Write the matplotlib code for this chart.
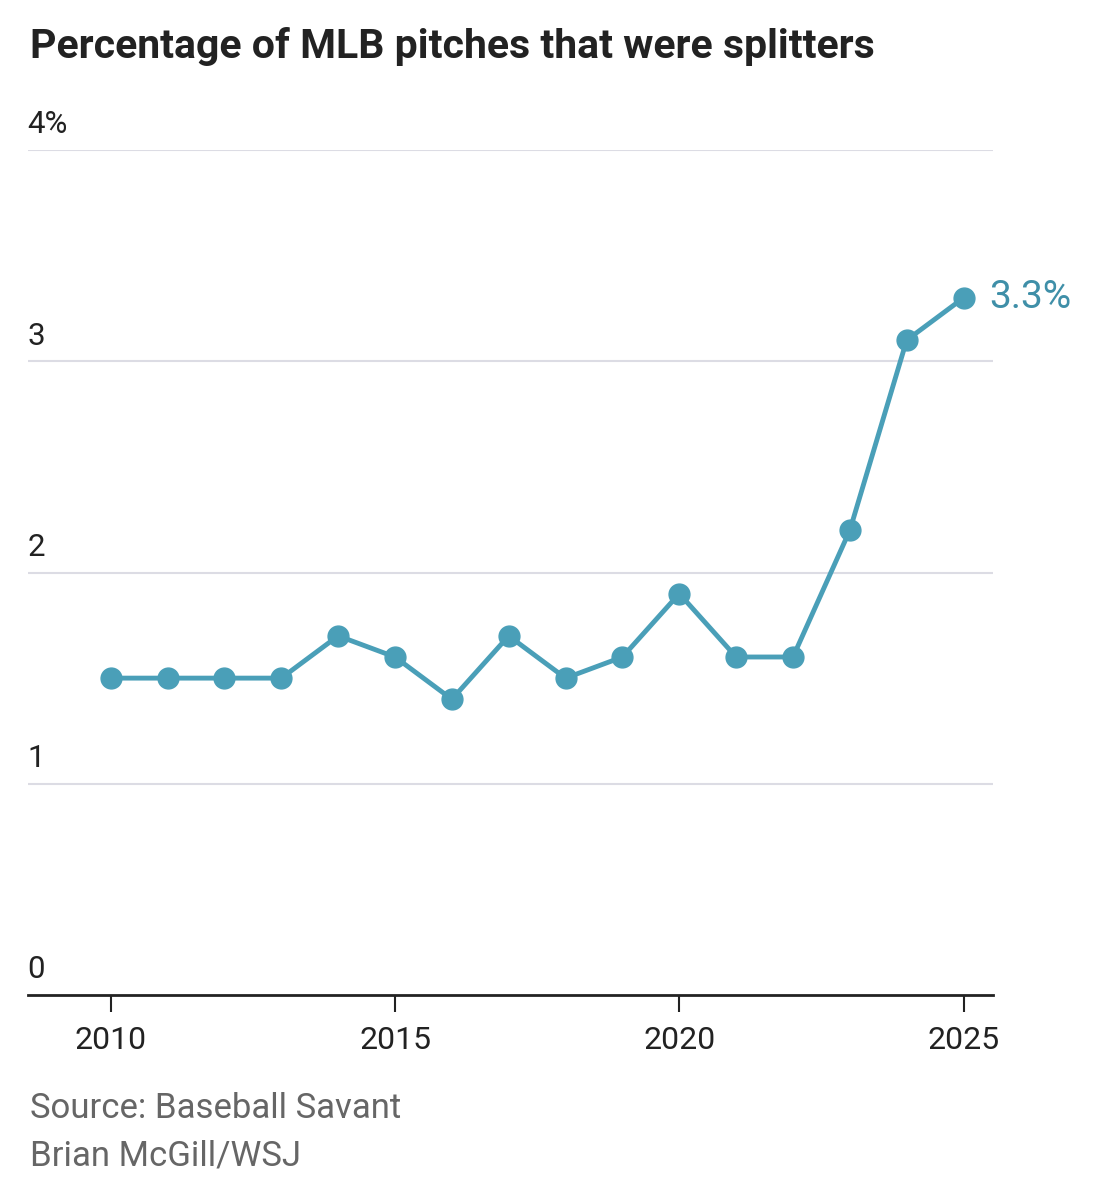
import matplotlib
matplotlib.use("Agg")
import matplotlib.pyplot as plt

years = list(range(2010, 2026))
share = [1.5, 1.5, 1.5, 1.5, 1.7, 1.6, 1.4, 1.7, 1.5, 1.6, 1.9, 1.6, 1.6, 2.2, 3.1, 3.3]
yticks = [0, 1, 2, 3, 4]
ylabels = ["0", "1", "2", "3", "4%"]
xticks = [2010, 2015, 2020, 2025]

plt.rcParams['font.family'] = ['Roboto', 'DejaVu Sans']
color = "#4a9fb8"

fig = plt.figure(figsize=(11.09, 12.0), dpi=100)
ax = fig.add_axes([0.025, 1 - 995 / 1200, 0.87, (995 - 150) / 1200])
ax.set_xlim(2008.54, 2025.51)
ax.set_ylim(0, 4)

for v, lab in zip(yticks, ylabels):
    if v > 0:
        ax.axhline(v, color="#dcdce4", lw=1.5, zorder=0)
    ax.text(2008.54, v + 0.05, lab, fontsize=22.5, color="#222222", ha="left", va="bottom")

ax.plot(years, share, color=color, lw=3.5, marker="o", ms=15, clip_on=False, zorder=3)
ax.text(years[-1] + 0.45, share[-1], "3.3%", fontsize=28, color="#3f8fa8",
        ha="left", va="center")

for s in ["top", "right", "left"]:
    ax.spines[s].set_visible(False)
ax.spines["bottom"].set_linewidth(2)
ax.spines["bottom"].set_color("#222222")
ax.set_yticks([])
ax.set_xticks(xticks)
ax.set_xticklabels([str(x) for x in xticks], fontsize=23, color="#222222")
ax.tick_params(axis="x", length=12, width=1.5, pad=10, color="#222222")

fig.text(30 / 1109, 1 - 47 / 1200, "Percentage of MLB pitches that were splitters",
         fontsize=29.5, fontweight="bold", color="#222222", ha="left", va="center")
fig.text(30 / 1109, 1 - 1108 / 1200, "Source: Baseball Savant", fontsize=25,
         color="#666666", ha="left", va="center")
fig.text(30 / 1109, 1 - 1156 / 1200, "Brian McGill/WSJ", fontsize=25,
         color="#666666", ha="left", va="center")

fig.savefig("out.png", dpi=100)
